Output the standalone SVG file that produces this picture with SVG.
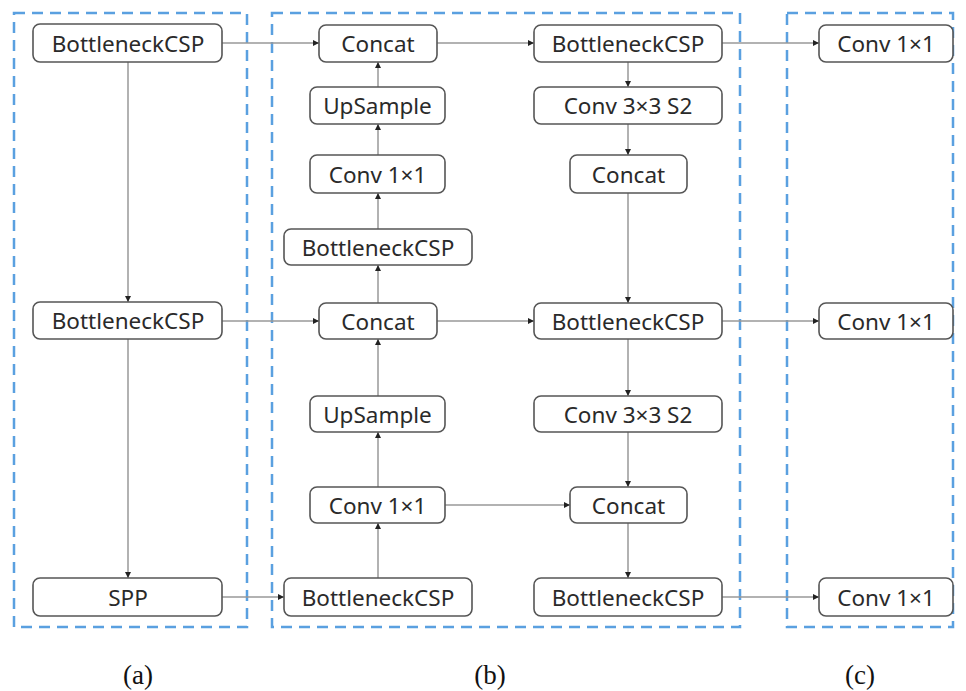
<svg xmlns="http://www.w3.org/2000/svg" width="966" height="691" viewBox="0 0 966 691">
<defs>
<marker id="ah" viewBox="0 0 10 10" refX="10" refY="5" markerWidth="6" markerHeight="6" markerUnits="userSpaceOnUse" orient="auto">
<path d="M0,0 L10,5 L0,10 z" fill="#222"/>
</marker>
<style>
.n rect{fill:#fff;stroke:#555;stroke-width:1.6}
.n text{font-family:"Noto Sans","Open Sans",sans-serif;font-size:22.5px;fill:#2a2a2a;text-anchor:middle;dominant-baseline:central}
.grp{fill:none;stroke:#5aa0e0;stroke-width:2.5;stroke-dasharray:11 7}
#connectors path{fill:none;stroke:#999;stroke-width:1.5;marker-end:url(#ah)}
.cap{font-family:"Liberation Serif","Times New Roman",serif;font-size:27px;fill:#111;text-anchor:middle}
</style>
</defs>
<rect width="966" height="691" fill="#fff"/>
<g id="groups">
<rect class="grp" x="14" y="13" width="233" height="614"/>
<rect class="grp" x="272" y="13" width="468" height="614"/>
<rect class="grp" x="787" y="13" width="166" height="614"/>
</g>
<g id="connectors">
<path d="M222,43 H319"/>
<path d="M128,62 V302"/>
<path d="M128,339 V578"/>
<path d="M222,321 H319"/>
<path d="M222,597 H284"/>
<path d="M378,578 V523"/>
<path d="M378,487 V432"/>
<path d="M378,396 V339"/>
<path d="M378,303 V265"/>
<path d="M378,229 V193"/>
<path d="M378,155 V124"/>
<path d="M378,87 V62"/>
<path d="M437,43 H534"/>
<path d="M437,321 H534"/>
<path d="M445,505 H570"/>
<path d="M628,62 V87"/>
<path d="M628,124 V155"/>
<path d="M628,193 V303"/>
<path d="M628,339 V396"/>
<path d="M628,432 V487"/>
<path d="M628,523 V578"/>
<path d="M722,43 H819"/>
<path d="M722,321 H819"/>
<path d="M722,597 H819"/>
</g>
<g id="a1" class="n"><rect x="33" y="24" width="189" height="38" rx="7"/><text x="128" y="43">BottleneckCSP</text></g>
<g id="a2" class="n"><rect x="33" y="302" width="189" height="37" rx="7"/><text x="128" y="320.5">BottleneckCSP</text></g>
<g id="a3" class="n"><rect x="33" y="578" width="189" height="38" rx="7"/><text x="128" y="597">SPP</text></g>
<g id="b1" class="n"><rect x="319" y="25" width="118" height="37" rx="7"/><text x="378" y="43.5">Concat</text></g>
<g id="b2" class="n"><rect x="310" y="87" width="135" height="37" rx="7"/><text x="377.5" y="105.5">UpSample</text></g>
<g id="b3" class="n"><rect x="310" y="155" width="135" height="38" rx="7"/><text x="377.5" y="174">Conv 1×1</text></g>
<g id="b4" class="n"><rect x="284" y="229" width="188" height="36" rx="7"/><text x="378" y="247">BottleneckCSP</text></g>
<g id="b5" class="n"><rect x="319" y="303" width="118" height="36" rx="7"/><text x="378" y="321">Concat</text></g>
<g id="b6" class="n"><rect x="310" y="396" width="135" height="36" rx="7"/><text x="377.5" y="414">UpSample</text></g>
<g id="b7" class="n"><rect x="310" y="487" width="135" height="36" rx="7"/><text x="377.5" y="505">Conv 1×1</text></g>
<g id="b8" class="n"><rect x="284" y="578" width="188" height="38" rx="7"/><text x="378" y="597">BottleneckCSP</text></g>
<g id="c1" class="n"><rect x="534" y="25" width="188" height="37" rx="7"/><text x="628" y="43.5">BottleneckCSP</text></g>
<g id="c2" class="n"><rect x="534" y="87" width="188" height="37" rx="7"/><text x="628" y="105.5">Conv 3×3 S2</text></g>
<g id="c3" class="n"><rect x="570" y="155" width="117" height="38" rx="7"/><text x="628.5" y="174">Concat</text></g>
<g id="c4" class="n"><rect x="534" y="303" width="188" height="36" rx="7"/><text x="628" y="321">BottleneckCSP</text></g>
<g id="c5" class="n"><rect x="534" y="396" width="188" height="36" rx="7"/><text x="628" y="414">Conv 3×3 S2</text></g>
<g id="c6" class="n"><rect x="570" y="487" width="117" height="36" rx="7"/><text x="628.5" y="505">Concat</text></g>
<g id="c7" class="n"><rect x="534" y="578" width="188" height="38" rx="7"/><text x="628" y="597">BottleneckCSP</text></g>
<g id="d1" class="n"><rect x="819" y="25" width="134" height="37" rx="7"/><text x="886" y="43.5">Conv 1×1</text></g>
<g id="d2" class="n"><rect x="819" y="303" width="134" height="36" rx="7"/><text x="886" y="321">Conv 1×1</text></g>
<g id="d3" class="n"><rect x="819" y="578" width="134" height="38" rx="7"/><text x="886" y="597">Conv 1×1</text></g>
<text class="cap" x="138" y="684">(a)</text>
<text class="cap" x="490" y="684">(b)</text>
<text class="cap" x="860" y="684">(c)</text>
</svg>
